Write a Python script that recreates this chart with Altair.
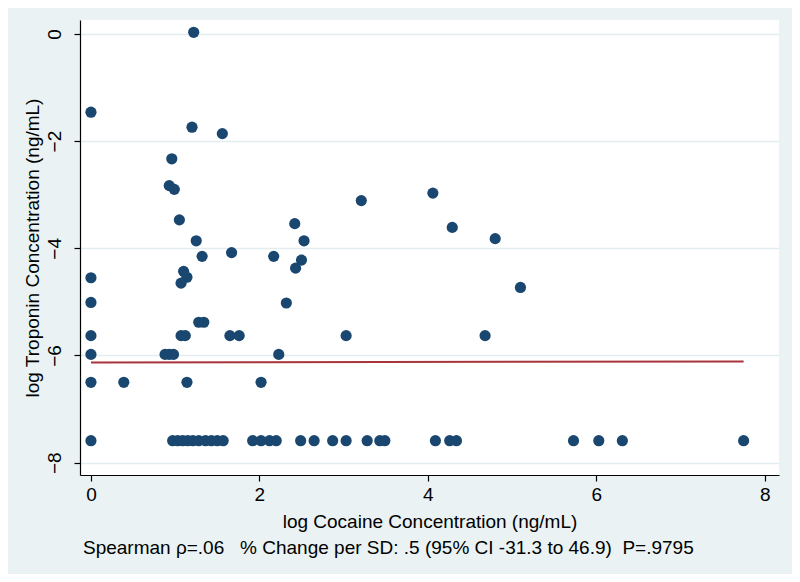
import altair as alt
import pandas as pd

# log cocaine (x) and log troponin (y) values
cocaine = [
    0, 0, 0, 0, 0, 0, 0,
    0.39,
    1.22, 1.20, 1.56, 0.96, 0.93, 0.99, 1.05, 1.25, 1.67, 1.32, 2.17,
    2.42, 2.53, 2.50, 2.43, 3.21, 1.10, 1.14, 1.07, 2.32, 4.06, 4.29,
    4.80, 5.10, 4.68, 1.28, 1.34, 1.07, 1.12, 1.65, 1.76, 3.03,
    0.88, 0.93, 0.98, 2.23, 1.14, 2.02,
    0.97, 1.03, 1.09, 1.15, 1.21, 1.28, 1.36, 1.43, 1.50, 1.57,
    1.92, 2.02, 2.12, 2.20, 2.49, 2.65, 2.87, 3.03, 3.28, 3.43, 3.49,
    4.09, 4.26, 4.34, 5.73, 6.03, 6.31, 7.75,
]
troponin = [
    -1.46, -4.55, -5.01, -5.63, -5.98, -6.50, -7.59,
    -6.50,
    0.03, -1.74, -1.86, -2.33, -2.83, -2.90, -3.47, -3.86, -4.08, -4.15, -4.15,
    -3.54, -3.86, -4.22, -4.37, -3.11, -4.43, -4.54, -4.65, -5.02, -2.97, -3.61,
    -3.82, -4.73, -5.63, -5.38, -5.38, -5.63, -5.63, -5.63, -5.63, -5.63,
    -5.98, -5.98, -5.98, -5.98, -6.50, -6.50,
    -7.59, -7.59, -7.59, -7.59, -7.59, -7.59, -7.59, -7.59, -7.59, -7.59,
    -7.59, -7.59, -7.59, -7.59, -7.59, -7.59, -7.59, -7.59, -7.59, -7.59, -7.59,
    -7.59, -7.59, -7.59, -7.59, -7.59, -7.59, -7.59,
]

fit_x = [0.0, 7.75]
fit_y = [-6.13, -6.11]

x_ticks = [0, 2, 4, 6, 8]
y_ticks = [0, -2, -4, -6, -8]

NB = "\u00a0"
footnote = ["Spearman \u03c1=.06" + NB * 3 + "% Change per SD: .5 (95% CI -31.3 to 46.9)" + NB * 2 + "P=.9795"]

pts = pd.DataFrame({"x": cocaine, "y": troponin})
fit = pd.DataFrame({"x": fit_x, "y": fit_y})
note = pd.DataFrame({"t": footnote})

FONT = "Liberation Sans"
x_scale = alt.Scale(domain=[-0.13, 8.17], nice=False, zero=False)
y_scale = alt.Scale(domain=[-8.23, 0.26], nice=False, zero=False)

x_axis = alt.Axis(
    title="log Cocaine Concentration (ng/mL)", values=x_ticks, grid=False, format="d",
    domainColor="#000000", tickColor="#000000", tickSize=6, labelPadding=4,
    labelFontSize=19, titleFontSize=19, titleFontWeight="normal",
    labelColor="#000000", titleColor="#000000", titlePadding=8, labelFont=FONT,
    titleFont=FONT, domainWidth=1.2, tickWidth=1.2,
)
y_axis = alt.Axis(
    title="log Troponin Concentration (ng/mL)", values=y_ticks, grid=True, format="d",
    gridColor="#e3edf0", gridWidth=1.5,
    domainColor="#000000", tickColor="#000000", tickSize=6, labelPadding=10,
    labelAngle=-90, labelAlign="center", labelBaseline="bottom",
    labelFontSize=19, titleFontSize=19, titleFontWeight="normal",
    labelColor="#000000", titleColor="#000000", titlePadding=3, labelFont=FONT,
    titleFont=FONT, domainWidth=1.2, tickWidth=1.2,
)

points = alt.Chart(pts).mark_circle(size=125, opacity=1, color="#1a476f").encode(
    x=alt.X("x:Q", scale=x_scale, axis=x_axis),
    y=alt.Y("y:Q", scale=y_scale, axis=y_axis),
)

line = alt.Chart(fit).mark_line(color="#a8343c", strokeWidth=2).encode(
    x=alt.X("x:Q", scale=x_scale),
    y=alt.Y("y:Q", scale=y_scale),
)

text = alt.Chart(note).mark_text(
    align="left", baseline="middle", fontSize=19, font=FONT, color="#000000"
).encode(x=alt.value(3), y=alt.value(528), text="t:N")

chart = alt.layer(points, line, text).properties(
    width=699, height=455,
    autosize=alt.AutoSizeParams(type="none"),
    padding={"left": 72, "top": 12, "right": 13, "bottom": 99},
    background="#eaf2f3",
).configure_view(fill="white", strokeWidth=0)

chart.save("out.html", embed_options={"renderer": "svg", "actions": False})
